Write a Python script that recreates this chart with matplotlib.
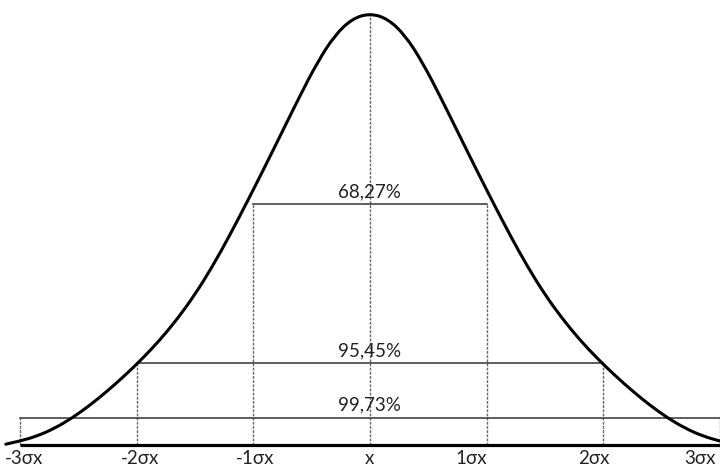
import matplotlib
matplotlib.use("Agg")
import matplotlib.pyplot as plt
from matplotlib.path import Path
from matplotlib.patches import PathPatch

# half of the bell curve (x in sigma, height relative to peak)
half_x = [0.0, 0.15, 0.3, 0.45, 0.6, 0.75, 0.9, 1.05, 1.2, 1.35, 1.5, 1.65,
          1.8, 1.95, 2.1, 2.25, 2.4, 2.55, 2.7, 2.85, 3.0, 3.12]
half_h = [1.0, 0.988, 0.950, 0.887, 0.809, 0.727, 0.645, 0.565, 0.487, 0.414,
          0.349, 0.293, 0.244, 0.201, 0.162, 0.126, 0.093, 0.064, 0.040, 0.022,
          0.010, 0.003]

sigmas = [-3, -2, -1, 0, 1, 2, 3]
tick_labels = ["-3σx", "-2σx", "-1σx", "x", "1σx", "2σx", "3σx"]

# coverage bands: half width in sigma, bar height, label
band_k = [1, 2, 3]
band_h = [0.559, 0.191, 0.064]
band_labels = ["68,27%", "95,45%", "99,73%"]

curve_x = [-v for v in half_x[::-1]] + half_x[1:]
curve_h = half_h[::-1] + half_h[1:]

fig = plt.figure(figsize=(7.2, 4.67), dpi=100)
ax = fig.add_axes([0, 0, 1, 1])
ax.set_xlim(-3.17, 3.0)
ax.set_ylim(-0.0498, 1.031)
ax.axis("off")

# smooth curve: quadratic bezier through midpoints of the read points
pts = list(zip(curve_x, curve_h))
verts = [pts[0]]
codes = [Path.MOVETO]
for i in range(1, len(pts) - 1):
    mid = ((pts[i][0] + pts[i + 1][0]) / 2, (pts[i][1] + pts[i + 1][1]) / 2)
    verts += [pts[i], mid]
    codes += [Path.CURVE3, Path.CURVE3]
verts.append(pts[-1])
codes.append(Path.LINETO)
ax.add_patch(PathPatch(Path(verts, codes), fill=False, lw=2.2, color="black",
                       capstyle="round", zorder=5))

# baseline
ax.plot([-3, 3.1], [0, 0], color="black", lw=2.3, zorder=4, solid_capstyle="butt")

# vertical dashed lines
top_for = {0: 1.0}
for k, h in zip(band_k, band_h):
    top_for[k] = h
    top_for[-k] = h
for s in sigmas:
    ax.plot([s, s], [0, top_for[abs(s)]], color="#666666", lw=1.0,
            linestyle=(0, (2, 1)), zorder=2)

# horizontal bars and labels
for k, h, lab in zip(band_k, band_h, band_labels):
    ax.plot([-k, k], [h, h], color="#333333", lw=1.1, zorder=3)
    ax.text(0, h + 0.029, lab, ha="center", va="center", fontsize=13.5,
            family="Lato", color="#222222")

# tick labels under the axis
label_pos = [-2.96, -1.97, -0.98, 0, 0.87, 1.92, 2.83]
for p, lab in zip(label_pos, tick_labels):
    ax.text(p, -0.029, lab, ha="center", va="center", fontsize=13.5,
            family="Lato", color="#222222")

fig.savefig("out.png", dpi=100)
